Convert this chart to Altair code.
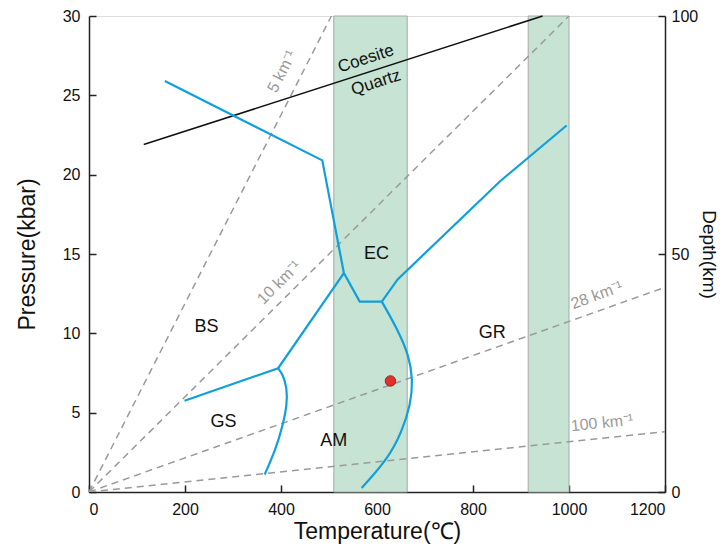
import altair as alt
import pandas as pd

# ---- data ----
band_x0 = [510, 915]
band_x1 = [663, 1000]

geo_names = ["5", "10", "28", "100"]
geo_T_end = [505, 1000, 1200, 1200]
geo_P_end = [30, 30, 12.9, 3.8]

# blue facies boundaries (T, P) per segment
seg_upper_T = [158, 486, 531]
seg_upper_P = [25.9, 20.9, 13.8]
seg_ec_T = [531, 564, 610]
seg_ec_P = [13.8, 12.0, 12.0]
seg_gr_T = [610, 643, 857, 995]
seg_gr_P = [12.0, 13.4, 19.6, 23.1]
seg_bs_T = [531, 394, 199]
seg_bs_P = [13.8, 7.8, 5.75]
seg_gs_T = [394, 404, 412.5, 412.5, 404, 390, 366]
seg_gs_P = [7.8, 7.4, 6.55, 5.5, 4.25, 2.77, 1.1]
seg_am_T = [610, 642, 666, 675, 670, 652, 624, 568]
seg_am_P = [12.0, 10.3, 8.66, 7.08, 5.5, 3.82, 2.14, 0.25]

coe_T = [114, 945]
coe_P = [21.9, 30]

sample_T = [628]
sample_P = [7.0]

facies_labels = ["BS", "GS", "AM", "EC", "GR"]
facies_T = [245, 280, 510, 599, 840]
facies_P = [10.4, 4.4, 3.2, 15.0, 10.0]

coe_labels = ["Coesite", "Quartz"]
coe_lab_T = [577, 598]
coe_lab_P = [27.3, 25.8]

geo_lab_text = ["5 km⁻¹", "10 km⁻¹", "28 km⁻¹", "100 km⁻¹"]
geo_lab_T = [402, 396, 1058, 1069]
geo_lab_P = [26.5, 13.2, 12.4, 4.35]
geo_lab_angle = [297, 315, 340, 354]

x_ticks = [0, 200, 400, 600, 800, 1000, 1200]
p_ticks = [0, 5, 10, 15, 20, 25, 30]
d_ticks = [0, 50, 100]
depth_vals = [0, 100]

FONT = "Liberation Sans"
INK = "#111111"
AX = "#222222"


def xs():
    return alt.Scale(domain=[0, 1200], nice=False)


def ys():
    return alt.Scale(domain=[0, 30], nice=False)


def X(field, axis=None):
    return alt.X(field, scale=xs(), axis=axis)


def Y(field, axis=None):
    return alt.Y(field, scale=ys(), axis=axis)


label_kw = dict(labelFont=FONT, labelFontSize=16, labelColor=INK)
title_kw = dict(titleFont=FONT, titleFontSize=23, titleFontWeight="normal", titleColor=INK)

x_main_axis = alt.Axis(values=x_ticks, format="d", title="Temperature(℃)", ticks=False,
                       domainColor=AX, domainWidth=1.5, grid=False, labelPadding=9,
                       titlePadding=3, **label_kw, **title_kw)
y_main_axis = alt.Axis(values=p_ticks, title="Pressure(kbar)", ticks=False,
                       domainColor=AX, domainWidth=1.5, grid=False, labelPadding=9,
                       titlePadding=23, **label_kw, **title_kw)
x_tick_axis = alt.Axis(values=x_ticks, orient="bottom", labels=False, domain=False, title=None,
                       ticks=True, tickSize=7, tickColor=AX, tickWidth=1.5, grid=False, offset=-7)
y_tick_axis = alt.Axis(values=p_ticks, orient="left", labels=False, domain=False, title=None,
                       ticks=True, tickSize=7, tickColor=AX, tickWidth=1.5, grid=False, offset=-7)
d_main_axis = alt.Axis(values=d_ticks, orient="right", title="Depth(km)", ticks=False,
                       domainColor=AX, domainWidth=1.5, grid=False, labelPadding=6,
                       titleAngle=90, titlePadding=1, labelFontSize=16, labelFont=FONT,
                       labelColor=INK, titleFont=FONT, titleFontSize=19,
                       titleFontWeight="normal", titleColor=INK)
d_tick_axis = alt.Axis(values=d_ticks, orient="right", labels=False, domain=False, title=None,
                       ticks=True, tickSize=7, tickColor=AX, tickWidth=1.5, grid=False, offset=-7)

bands = pd.DataFrame({"x0": band_x0, "x1": band_x1})
band_layer = alt.Chart(bands).mark_rect(
    color="#c6e3d4", stroke="#a8a8a8", strokeWidth=1
).encode(
    x=X("x0:Q", x_main_axis),
    x2="x1:Q",
    y=alt.datum(0, scale=ys(), axis=y_main_axis),
    y2=alt.datum(30),
)

tick_layer = alt.Chart(bands).mark_point(opacity=0).encode(
    x=X("x0:Q", x_tick_axis),
    y=alt.datum(0, scale=ys(), axis=y_tick_axis),
)

geo_rows = []
for n, te, pe in zip(geo_names, geo_T_end, geo_P_end):
    geo_rows.append({"g": n, "o": 0, "T": 0, "P": 0})
    geo_rows.append({"g": n, "o": 1, "T": te, "P": pe})
geo = pd.DataFrame(geo_rows)
geo_layer = alt.Chart(geo).mark_line(
    color="#9a9a9a", strokeDash=[7, 5], strokeWidth=1.5, clip=True
).encode(x=X("T:Q"), y=Y("P:Q"), detail="g:N", order="o:Q")

segs = {
    "upper": (seg_upper_T, seg_upper_P),
    "ec": (seg_ec_T, seg_ec_P),
    "gr": (seg_gr_T, seg_gr_P),
    "bs": (seg_bs_T, seg_bs_P),
    "gs": (seg_gs_T, seg_gs_P),
    "am": (seg_am_T, seg_am_P),
}
rows = []
for k, (tt, pp) in segs.items():
    for i, (t, p) in enumerate(zip(tt, pp)):
        rows.append({"s": k, "o": i, "T": t, "P": p})
blue = pd.DataFrame(rows)
blue_layer = alt.Chart(blue[blue.s.isin(["upper", "ec", "gr", "bs"])]).mark_line(
    color="#0fa0dc", strokeWidth=2.2
).encode(x=X("T:Q"), y=Y("P:Q"), detail="s:N", order="o:Q")
blue_curve = alt.Chart(blue[blue.s.isin(["gs", "am"])]).mark_line(
    color="#0fa0dc", strokeWidth=2.2, interpolate="basis"
).encode(x=X("T:Q"), y=Y("P:Q"), detail="s:N", order="o:Q")

coe = pd.DataFrame({"T": coe_T, "P": coe_P})
coe_layer = alt.Chart(coe).mark_line(color=INK, strokeWidth=1.5).encode(
    x=X("T:Q"), y=Y("P:Q")
)

coe_text = alt.Chart(pd.DataFrame({"T": coe_lab_T, "P": coe_lab_P, "t": coe_labels})).mark_text(
    font=FONT, fontSize=17, angle=342, color=INK
).encode(x=X("T:Q"), y=Y("P:Q"), text="t:N")

sample = pd.DataFrame({"T": sample_T, "P": sample_P})
sample_layer = alt.Chart(sample).mark_point(
    filled=True, size=110, color="#e3302c", stroke="#7a1a16", strokeWidth=0.8, opacity=1
).encode(x=X("T:Q"), y=Y("P:Q"))

fac = pd.DataFrame({"t": facies_labels, "T": facies_T, "P": facies_P})
fac_layer = alt.Chart(fac).mark_text(font=FONT, fontSize=18, color=INK).encode(
    x=X("T:Q"), y=Y("P:Q"), text="t:N"
)

gl_layers = []
for t, T, P, a in zip(geo_lab_text, geo_lab_T, geo_lab_P, geo_lab_angle):
    gl_layers.append(
        alt.Chart(pd.DataFrame({"t": [t], "T": [T], "P": [P]})).mark_text(
            font=FONT, fontSize=16, color="#9a9a9a", angle=a
        ).encode(x=X("T:Q"), y=Y("P:Q"), text="t:N")
    )

depth = pd.DataFrame({"d": depth_vals, "T": [0, 0]})
depth_layer = alt.Chart(depth).mark_point(opacity=0).encode(
    x=X("T:Q"),
    y=alt.Y("d:Q", scale=alt.Scale(domain=[0, 100], nice=False), axis=d_main_axis),
)
depth_tick_layer = alt.Chart(depth).mark_point(opacity=0).encode(
    x=X("T:Q"),
    y=alt.Y("d:Q", scale=alt.Scale(domain=[0, 100], nice=False), axis=d_tick_axis),
)

chart = alt.layer(
    band_layer, tick_layer, geo_layer, coe_layer, blue_layer, blue_curve, sample_layer,
    fac_layer, coe_text, *gl_layers, depth_layer, depth_tick_layer
).resolve_scale(y="independent").resolve_axis(x="independent", y="independent").properties(
    width=576, height=476,
    autosize=alt.AutoSizeParams(type="none"),
    padding={"left": 81, "top": 8, "right": 55, "bottom": 53},
).configure_view(stroke=AX, strokeWidth=1.5, fill="#fdfcfa").configure(background="white")

chart.save("out.html", embed_options={"renderer": "svg", "actions": False})
